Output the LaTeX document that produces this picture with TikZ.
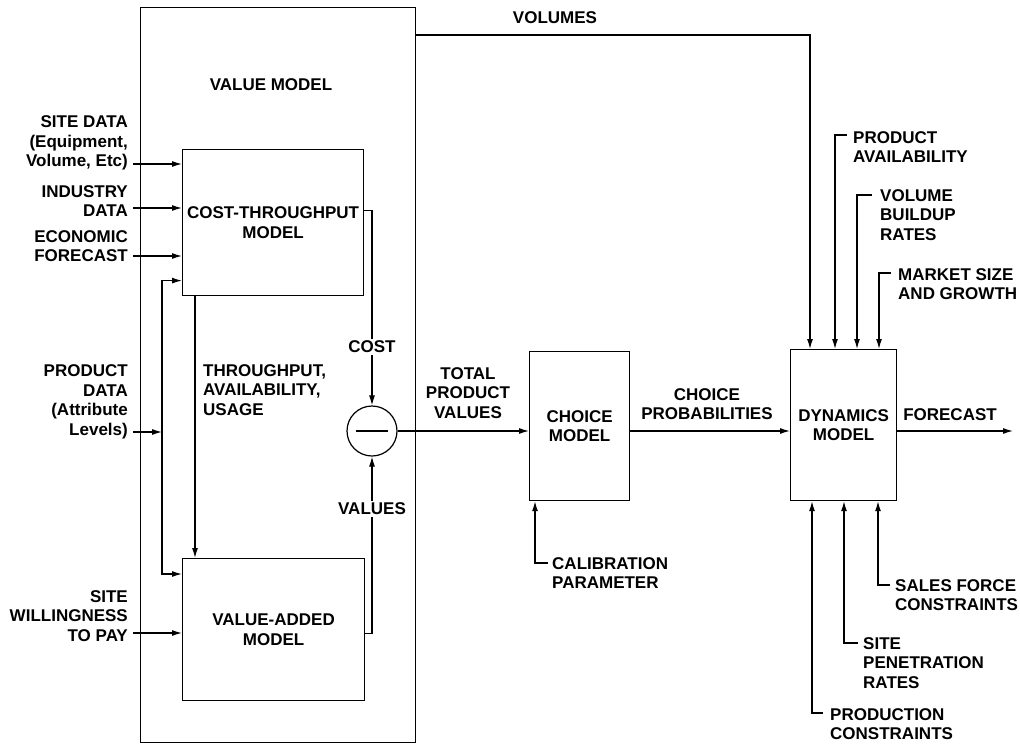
\documentclass[tikz,border=0pt]{standalone}
\usepackage{fontspec}
\setmainfont{Liberation Sans}
\usetikzlibrary{arrows.meta}
\begin{document}
\begin{tikzpicture}[x=1pt,y=-1pt,
  box/.style={draw,line width=1.2pt,inner sep=0pt,anchor=north west},
  txt/.style={font=\fontsize{17}{19.5}\selectfont\bfseries,inner sep=0pt},
  ln/.style={line width=1.2pt},
  arr/.style={line width=1.2pt,-{Latex[length=10pt,width=6pt]}}]
\useasboundingbox (0,0) rectangle (1020,744);
% boxes
\node[box,minimum width=275pt,minimum height=735pt] (vm) at (140,7) {};
\node[box,minimum width=181pt,minimum height=146pt,txt,align=center] (ct) at (182,149) {COST-THROUGHPUT\\MODEL};
\node[box,minimum width=182pt,minimum height=142pt,txt,align=center] (va) at (182,558) {VALUE-ADDED\\MODEL};
\node[draw,circle,line width=1.2pt,minimum size=50pt,inner sep=0pt] (sub) at (372,431) {};
\draw[ln] ([xshift=-16pt]sub.center) -- ([xshift=16pt]sub.center);
\node[box,minimum width=100pt,minimum height=149pt,txt,align=center] (ch) at (529,351) {CHOICE\\MODEL};
\node[box,minimum width=106pt,minimum height=151pt,txt,align=center] (dy) at (790,349) {DYNAMICS\\MODEL};
% labels
\node[txt] (vml) at (271,85) {VALUE MODEL};
\node[txt,align=right,anchor=east] (sdl) at (128,143) {SITE DATA\\(Equipment,\\Volume, Etc)};
\node[txt,align=right,anchor=east] (idl) at (128,201) {INDUSTRY\\DATA};
\node[txt,align=right,anchor=east] (efl) at (128,246) {ECONOMIC\\FORECAST};
\node[txt,align=right,anchor=east] (pdl) at (128,402) {PRODUCT\\DATA\\(Attribute\\Levels)};
\node[txt,align=right,anchor=east] (swl) at (128,616) {SITE\\WILLINGNESS\\TO PAY};
\node[txt,align=left,anchor=west] (tpl) at (203,390) {THROUGHPUT,\\AVAILABILITY,\\USAGE};
\node[txt,align=center] (tpv) at (468,393) {TOTAL\\PRODUCT\\VALUES};
\node[txt,align=center] (cpl) at (707,404) {CHOICE\\PROBABILITIES};
\node[txt] (fcl) at (950,415) {FORECAST};
\node[txt] (voll) at (555,18) {VOLUMES};
\node[txt,align=left,anchor=west] (cal) at (552,573) {CALIBRATION\\PARAMETER};
\node[txt,align=left,anchor=west] (pal) at (853,147) {PRODUCT\\AVAILABILITY};
\node[txt,align=left,anchor=west] (vbl) at (880,215) {VOLUME\\BUILDUP\\RATES};
\node[txt,align=left,anchor=west] (msl) at (898,284) {MARKET SIZE\\AND GROWTH};
\node[txt,align=left,anchor=west] (sfl) at (895,595) {SALES FORCE\\CONSTRAINTS};
\node[txt,align=left,anchor=west] (spl) at (863,663) {SITE\\PENETRATION\\RATES};
\node[txt,align=left,anchor=west] (prl) at (830,724) {PRODUCTION\\CONSTRAINTS};
% free ends
\coordinate (sdA) at (133,164);
\coordinate (idA) at (133,208);
\coordinate (efA) at (133,256);
\coordinate (pdA) at (133,432);
\coordinate (swA) at (133,633);
\coordinate (pdJ) at (162,432);
\coordinate (fcE) at (1013,431);
\coordinate (volA) at (415,35);
\coordinate (paA) at (847,135);
\coordinate (vbA) at (872,195);
\coordinate (msA) at (891,273);
\coordinate (sfA) at (890,585);
\coordinate (spA) at (858,643);
\coordinate (prA) at (823,713);
\coordinate (caA) at (548,563);
% connectors
\draw[arr] (sdA) -- (sdA -| ct.west);
\draw[arr] (idA) -- (idA -| ct.west);
\draw[arr] (efA) -- (efA -| ct.west);
\draw[arr] (pdA) -- (pdJ);
\draw[arr] (pdJ) |- ([yshift=-58pt]ct.west);
\draw[arr] (pdJ) |- ([yshift=-16pt]va.north west);
\draw[arr] (swA) -- (swA -| va.west);
\draw[arr] ([xshift=13pt]ct.south west) -- ([xshift=13pt]va.north west);
\draw[arr] ([yshift=12pt]ct.east) -| (sub.north);
\draw[arr] ([yshift=-4pt]va.east) -| (sub.south);
\draw[arr] (sub.east) -- (sub.east -| ch.west);
\draw[arr] (sub.east -| ch.east) -- (sub.east -| dy.west);
\draw[arr] (sub.east -| dy.east) -- (fcE);
\draw[arr] (volA) -| ([xshift=20pt]dy.north west);
\draw[arr] (paA) -| ([xshift=45pt]dy.north west);
\draw[arr] (vbA) -| ([xshift=67pt]dy.north west);
\draw[arr] (msA) -| ([xshift=89pt]dy.north west);
\draw[arr] (sfA) -| ([xshift=88pt]dy.south west);
\draw[arr] (spA) -| ([xshift=54pt]dy.south west);
\draw[arr] (prA) -| ([xshift=22pt]dy.south west);
\draw[arr] (caA) -| ([xshift=6pt]ch.south west);
% labels on lines
\node[txt,fill=white,inner sep=2pt] (costl) at (372,347) {COST};
\node[txt,fill=white,inner sep=2pt] (vall) at (372,509) {VALUES};
\end{tikzpicture}
\end{document}
